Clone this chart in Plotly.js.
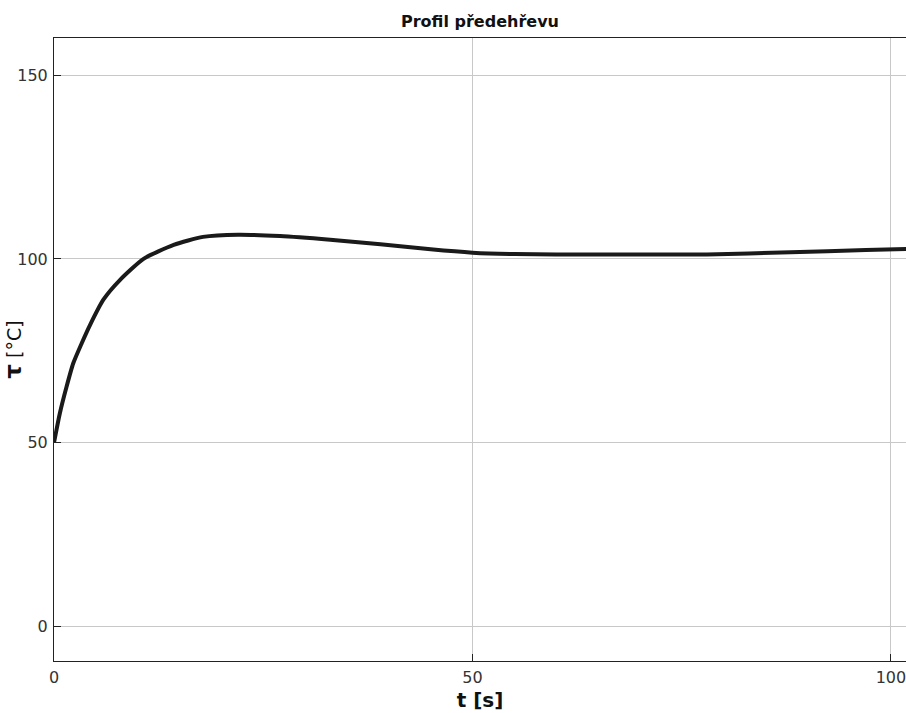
<!DOCTYPE html>
<html>
<head>
<meta charset="utf-8">
<script src="https://cdn.plot.ly/plotly-3.0.1.min.js"></script>
<style>html,body{margin:0;padding:0;background:#fff;}#chart{width:906px;height:713px;}</style>
</head>
<body>
<div id="chart"></div>
<script>
// Data
const timeS = [0, 0.7, 1.5, 2.3, 3.3, 4.3, 5.9, 7.9, 10.7, 14.3, 17.8, 22, 27, 33, 39, 45, 50, 55, 60, 65, 70, 78, 88, 97, 102];
const tempC = [50, 58, 65.2, 71.6, 77, 82, 88.9, 94.3, 100, 103.8, 106.0, 106.6, 106.2, 105.2, 104, 102.6, 101.7, 101.3, 101.2, 101.2, 101.2, 101.2, 101.8, 102.4, 102.7];
const xTicks = [0, 50, 100];
const yTicks = [0, 50, 100, 150];
const chartTitle = 'Profil předehřevu';
const xTitle = 't [s]';
const yTitle = '<span style="font-size:23px"><b>τ</b></span> [°C]';

const trace = {
  x: timeS,
  y: tempC,
  type: 'scatter',
  mode: 'lines',
  line: {color: '#1a1a1a', width: 4, shape: 'spline', smoothing: 0.6},
  hoverinfo: 'x+y'
};

const axisCommon = {
  showgrid: true,
  gridcolor: '#c8c8c8',
  gridwidth: 1,
  zeroline: false,
  showline: true,
  linecolor: '#222',
  linewidth: 1,
  ticks: 'inside',
  ticklen: 7,
  tickcolor: '#222',
  ticklabeloverflow: 'allow',
  tickfont: {family: 'DejaVu Sans', size: 16, color: '#333'}
};

const layout = {
  width: 906,
  height: 713,
  margin: {l: 54, r: 0, t: 38, b: 52},
  paper_bgcolor: '#fff',
  plot_bgcolor: '#fff',
  showlegend: false,
  title: {
    text: chartTitle,
    font: {family: 'DejaVu Sans', size: 16, color: '#111', weight: 'bold'},
    x: 0.5, xref: 'paper', xanchor: 'center',
    y: 1 - 21/713, yref: 'container', yanchor: 'middle'
  },
  xaxis: Object.assign({}, axisCommon, {
    range: [0, 101.8],
    tickvals: xTicks,
    ticktext: xTicks.map(String),
    mirror: true,
    ticklabelstandoff: 2,
    title: {text: xTitle, font: {family: 'DejaVu Sans', size: 20, color: '#111', weight: 'bold'}, standoff: 6}
  }),
  yaxis: Object.assign({}, axisCommon, {
    range: [-9.4, 160.1],
    tickvals: yTicks,
    ticktext: yTicks.map(String),
    mirror: false,
    ticklabelstandoff: 2,
    title: {text: yTitle, font: {family: 'DejaVu Sans', size: 19, color: '#111'}, standoff: 4}
  })
};

Plotly.newPlot('chart', [trace], layout, {displayModeBar: false, staticPlot: true});
</script>
</body>
</html>
